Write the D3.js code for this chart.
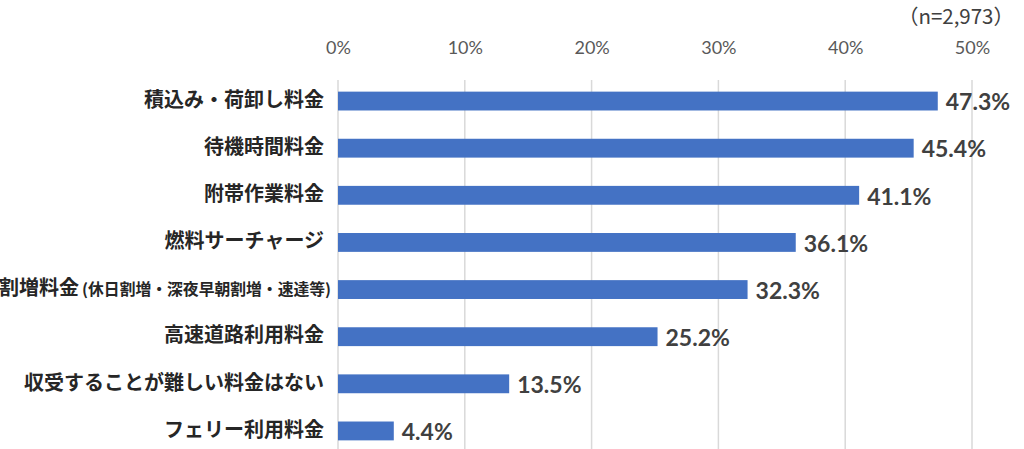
<!DOCTYPE html>
<html>
<head>
<meta charset="utf-8">
<script src="https://cdn.jsdelivr.net/npm/d3@7"></script>
<style>
  html, body { margin: 0; padding: 0; background: #fff; }
  svg { display: block; }
</style>
</head>
<body>
<div id="chart"></div>
<script>
// data
var categories = ['積込み・荷卸し料金', '待機時間料金', '附帯作業料金', '燃料サーチャージ',
                  '割増料金', '高速道路利用料金', '収受することが難しい料金はない', 'フェリー利用料金'];
var subNotes = ['', '', '', '', '(休日割増・深夜早朝割増・速達等)', '', '', ''];
var values = [47.3, 45.4, 41.1, 36.1, 32.3, 25.2, 13.5, 4.4];
var tickValues = [0, 10, 20, 30, 40, 50];
var sampleNote = '（n=2,973）';

var w = 1024, h = 449,
    barColor = '#4472C4',
    gridColor = '#d9d9d9',
    jpFont = '"Noto Sans CJK JP", sans-serif',
    numFont = 'Lato, "Liberation Sans", sans-serif';

var svg = d3.select('#chart').append('svg')
  .attr('width', w)
  .attr('height', h);

var x = d3.scaleLinear().domain([0, 50]).range([338, 972]);
var y = d3.scaleBand().domain(categories).range([77.5, 454.5])
  .paddingInner(0.6).paddingOuter(0.3);

// gridlines
svg.selectAll('line.grid')
  .data(tickValues)
  .enter()
  .append('line')
  .attr('class', 'grid')
  .attr('x1', function(d){ return x(d); })
  .attr('x2', function(d){ return x(d); })
  .attr('y1', 80)
  .attr('y2', h)
  .attr('stroke', gridColor)
  .attr('stroke-width', 1.5);

// top axis labels
var axis = d3.axisTop(x).tickValues(tickValues).tickSize(0)
  .tickFormat(function(d){ return d + '%'; });
var ax = svg.append('g').attr('transform', 'translate(0,57)').call(axis);
ax.select('.domain').remove();
ax.selectAll('text')
  .attr('font-family', numFont)
  .attr('font-size', '18px')
  .attr('fill', '#595959');

// bars
svg.selectAll('rect.bar')
  .data(values)
  .enter()
  .append('rect')
  .attr('class', 'bar')
  .attr('x', x(0))
  .attr('y', function(d, i){ return y(categories[i]); })
  .attr('width', function(d){ return x(d) - x(0); })
  .attr('height', y.bandwidth())
  .attr('fill', barColor);

// value labels
svg.selectAll('text.val')
  .data(values)
  .enter()
  .append('text')
  .attr('class', 'val')
  .attr('x', function(d){ return x(d) + 8; })
  .attr('y', function(d, i){ return y(categories[i]) + y.bandwidth() / 2; })
  .attr('dy', '0.4em')
  .attr('font-family', numFont)
  .attr('font-weight', 'bold')
  .attr('font-size', '23px')
  .attr('fill', '#404040')
  .text(function(d){ return d.toFixed(1) + '%'; });

// category labels
var labels = svg.selectAll('text.cat')
  .data(categories)
  .enter()
  .append('text')
  .attr('class', 'cat')
  .attr('x', function(d, i){ return subNotes[i] ? 331 : 324; })
  .attr('y', function(d){ return y(d) + y.bandwidth() / 2; })
  .attr('dy', '0.36em')
  .attr('text-anchor', 'end')
  .attr('font-family', jpFont)
  .attr('font-weight', 'bold')
  .attr('fill', '#262626');
labels.append('tspan')
  .attr('font-size', '20px')
  .text(function(d){ return d; });
labels.append('tspan')
  .attr('font-size', '15.8px')
  .attr('dx', function(d, i){ return subNotes[i] ? 3 : 0; })
  .text(function(d, i){ return subNotes[i]; });

// sample size
svg.append('text')
  .attr('x', 1014)
  .attr('y', 17)
  .attr('dy', '0.36em')
  .attr('text-anchor', 'end')
  .attr('font-family', jpFont)
  .attr('font-size', '20.5px')
  .attr('fill', '#404040')
  .text(sampleNote);
</script>
</body>
</html>
